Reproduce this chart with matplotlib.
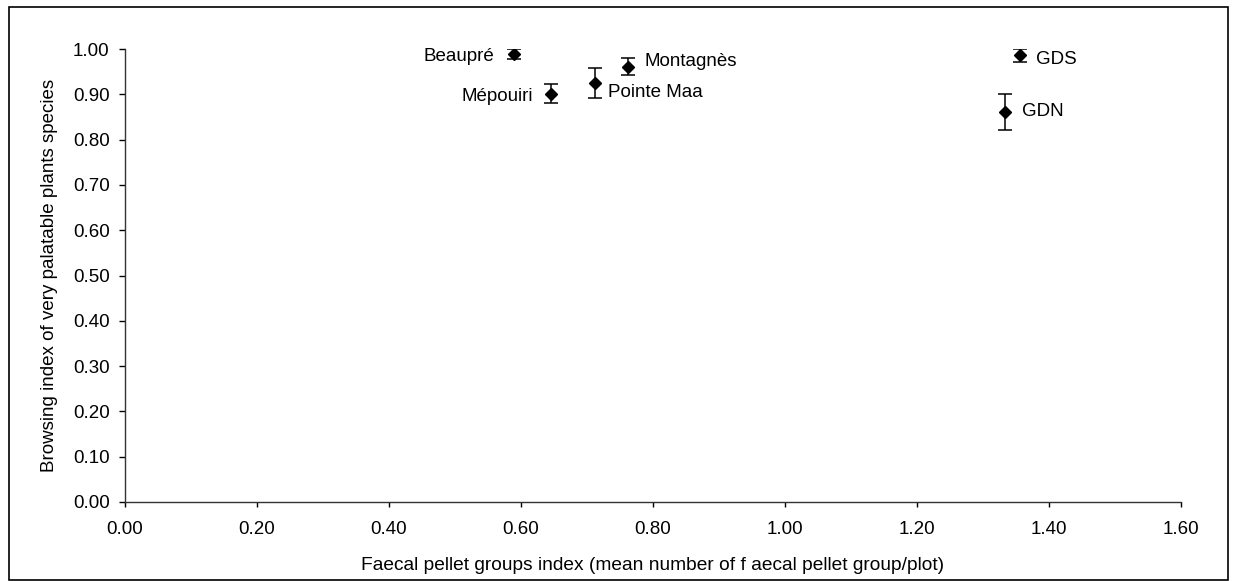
import matplotlib.pyplot as plt
from matplotlib.patches import Rectangle

plt.rcParams['font.family'] = ['Liberation Sans', 'DejaVu Sans']

# sites, faecal pellet index, browsing index and its error
sites = ['Beaupré', 'Mépouiri', 'Pointe Maa', 'Montagnès', 'GDS', 'GDN']
pellet = [0.59, 0.645, 0.712, 0.762, 1.356, 1.334]
browse = [0.989, 0.901, 0.925, 0.961, 0.986, 0.861]
err = [0.012, 0.021, 0.033, 0.019, 0.015, 0.039]

# label offsets in points (dx, dy)
offs = [(-14.5, -2), (-13, -2), (9.5, -6.5), (12, 3.5), (11.5, -3), (12, 0)]

fig = plt.figure(figsize=(12.36, 5.81), dpi=100)
ax = fig.add_axes([125/1236, 1-502/581, (1181-125)/1236, (502-49)/581])

ax.errorbar(pellet, browse, yerr=err, fmt='D', color='black', ms=6.5,
            ecolor='black', elinewidth=1.1, capsize=4.7, capthick=1.1)

for s, x, y, (dx, dy) in zip(sites, pellet, browse, offs):
    ax.annotate(s, (x, y), xytext=(dx, dy), textcoords='offset points',
                ha='right' if dx < 0 else 'left', va='center', fontsize=13.5)

ax.set_xlim(0, 1.6)
ax.set_ylim(0, 1.0)
ax.set_xticks([i*0.2 for i in range(9)])
ax.set_yticks([i*0.1 for i in range(11)])
ax.set_xticklabels(['%.2f' % (i*0.2) for i in range(9)])
ax.set_yticklabels(['%.2f' % (i*0.1) for i in range(11)])
ax.tick_params(axis='x', labelsize=13.5, length=3.5, width=1, pad=10.5)
ax.tick_params(axis='y', labelsize=13.5, length=4.5, width=1, pad=6.5)
ax.spines['top'].set_visible(False)
ax.spines['right'].set_visible(False)
for sp in ['left', 'bottom']:
    ax.spines[sp].set_linewidth(1)
    ax.spines[sp].set_color('#333333')

ax.set_xlabel('Faecal pellet groups index (mean number of f aecal pellet group/plot)',
              fontsize=13.8, labelpad=13)
ax.set_ylabel('Browsing index of very palatable plants species', fontsize=13.5, labelpad=11)

fig.patches.append(Rectangle((8.5/1236, 1.5/581), 1219/1236, 573/581, transform=fig.transFigure,
                             fill=False, edgecolor='black', linewidth=1.2))

fig.savefig('out.png', dpi=100)
